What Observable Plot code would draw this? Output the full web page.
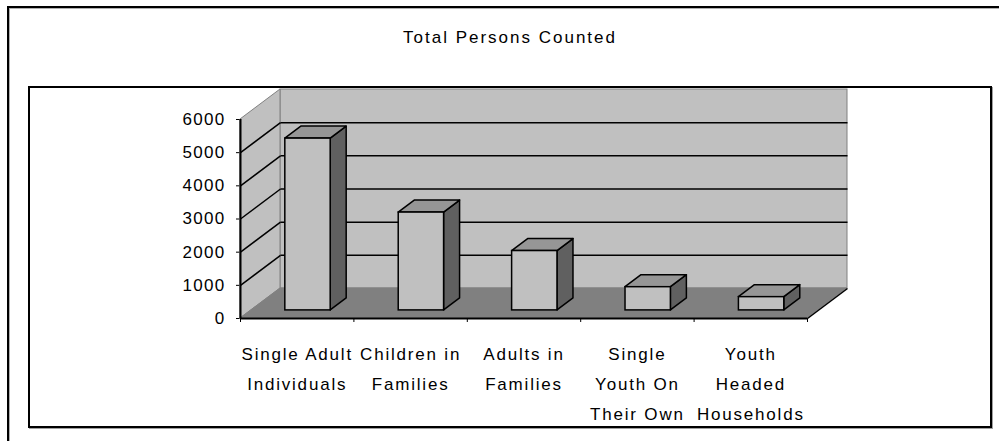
<!DOCTYPE html>
<html><head><meta charset="utf-8">
<script src="https://cdn.jsdelivr.net/npm/d3@7"></script>
<script src="https://cdn.jsdelivr.net/npm/@observablehq/plot@0.6"></script>
<style>
html,body{margin:0;padding:0;background:#fff;}
#wrap{position:relative;width:999px;height:441px;overflow:hidden;font-family:"Liberation Sans",Arial,sans-serif;}
#outer{position:absolute;left:7px;top:6px;width:1100px;height:1000px;border:2px solid #000;box-shadow:inset 1px 1px 0 #b0b0b0;}
#inner{position:absolute;left:28px;top:86px;width:960px;height:338px;border:2px solid #000;box-shadow:1px 1px 0 #a0a0a0;}
#title{position:absolute;left:29px;width:962px;top:29px;text-align:center;font-size:17px;line-height:17px;letter-spacing:2px;color:#000;}
#chart{position:absolute;left:0;top:0;}
#chart svg text{letter-spacing:1.3px;}
#chart svg .xlab text{letter-spacing:1.8px;}
</style></head>
<body>
<div id="wrap">
  <div id="outer"></div>
  <div id="inner"></div>
  <div id="title"></div>
  <div id="chart"></div>
</div>
<script>
// ---- data ----
const title = "Total Persons Counted";
const categories = ["Single Adult Individuals", "Children in Families", "Adults in Families", "Single Youth On Their Own", "Youth Headed Households"];
const xLabels = ["Single Adult\nIndividuals", "Children in\nFamilies", "Adults in\nFamilies", "Single\nYouth On\nTheir Own", "Youth\nHeaded\nHouseholds"];
const totals = [5180, 2950, 1790, 700, 400];
const yTicks = [0, 1000, 2000, 3000, 4000, 5000, 6000];

document.getElementById("title").textContent = title;

// ---- layout / pseudo-3D geometry ----
const W = 999, H = 441, mL = 240, mR = 192, mT = 119, mB = 123;
const n = categories.length;
const yMax = yTicks[yTicks.length - 1];
const pxX = (W - mL - mR) / n, pxY = (H - mT - mB) / yMax;
const DX = 40 / pxX, DY = 30 / pxY;   // full depth offset in data units
const f0 = 0.27, f1 = 0.67, bw = 0.4;  // bar depth range and width

const rows = categories.map((c, i) => ({i, c, v: totals[i], L: i + 0.5 - bw / 2, R: i + 0.5 + bw / 2}));
const front = rows.map(r => ({k: r.i, x1: r.L + f0 * DX, x2: r.R + f0 * DX, y1: f0 * DY, y2: r.v + f0 * DY}));
const topF = rows.flatMap(r => [f0, f1].map(f => ({k: r.i, y: r.v + f * DY, x1: r.L + f * DX, x2: r.R + f * DX})));
const sideF = rows.flatMap(r => [f0, f1].map(f => ({k: r.i, x: r.R + f * DX, y1: f * DY, y2: r.v + f * DY})));

const backWall = [{x1: DX, x2: n + DX, y1: DY, y2: yMax + DY}];
const sideWall = [{x: 0, y1: 0, y2: yMax}, {x: DX, y1: DY, y2: yMax + DY}];
const floor = [{y: 0, x1: 0, x2: n}, {y: DY, x1: DX, x2: n + DX}];
const inner = yTicks.filter(t => t > 0 && t < yMax);

const wallFill = "#c0c0c0", edge = "#808080";

const chart = Plot.plot({
  width: W, height: H,
  marginLeft: mL, marginRight: mR, marginTop: mT, marginBottom: mB,
  style: {background: "transparent", fontSize: "17px", fontFamily: "'Liberation Sans', Arial, sans-serif", color: "#000", overflow: "visible"},
  x: {domain: [0, n], ticks: d3.range(n + 1), tickFormat: () => "", tickSize: 4, label: null},
  y: {domain: [0, yMax], ticks: yTicks, tickFormat: d => String(d), tickSize: 4, tickPadding: 11, label: null},
  marks: [
    Plot.rect(backWall, {x1: "x1", x2: "x2", y1: "y1", y2: "y2", fill: wallFill, stroke: edge, strokeWidth: 1}),
    Plot.area(sideWall, {x1: "x", y1: "y1", y2: "y2", fill: wallFill, stroke: edge, strokeWidth: 1}),
    Plot.area(floor, {y1: "y", x1: "x1", x2: "x2", fill: "#808080", stroke: edge, strokeWidth: 1}),
    Plot.link(inner, {x1: DX, x2: n + DX, y1: d => d + DY, y2: d => d + DY, stroke: "#000", strokeWidth: 1.5}),
    Plot.link(inner, {x1: 0, x2: DX, y1: d => d, y2: d => d + DY, stroke: "#000", strokeWidth: 1.5}),
    Plot.link([0], {x1: n, y1: 0, x2: n + DX, y2: DY, stroke: "#000", strokeWidth: 1.5}),
    Plot.area(sideF, {x1: "x", y1: "y1", y2: "y2", z: "k", fill: "#606060", stroke: "#000", strokeWidth: 1.5}),
    Plot.area(topF, {y1: "y", x1: "x1", x2: "x2", z: "k", fill: "#969696", stroke: "#000", strokeWidth: 1.5}),
    Plot.rect(front, {x1: "x1", x2: "x2", y1: "y1", y2: "y2", fill: "#c0c0c0", stroke: "#000", strokeWidth: 1.5}),
    Plot.ruleY([0], {x1: 0, x2: n, stroke: "#000", strokeWidth: 2}),
    Plot.ruleX([0], {y1: 0, y2: yMax, stroke: "#000", strokeWidth: 2}),
    Plot.text(rows, {x: r => r.i + 0.5, y: 0, text: r => xLabels[r.i], lineAnchor: "top", dy: 20, lineHeight: 30 / 17, fontSize: 17, fill: "#000", className: "xlab"})
  ]
});
document.getElementById("chart").appendChild(chart);
</script>
</body></html>
